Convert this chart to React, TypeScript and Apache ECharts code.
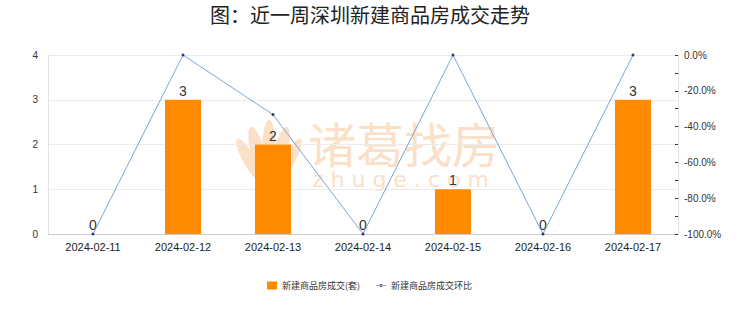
import React, { useEffect, useRef } from "react";
import * as echarts from "echarts";

const categories = ["2024-02-11", "2024-02-12", "2024-02-13", "2024-02-14", "2024-02-15", "2024-02-16", "2024-02-17"];
const deals = [0, 3, 2, 0, 1, 0, 3];
const momPct = [-100, 0, -33.3, -100, 0, -100, 0];
const titleText = "图：近一周深圳新建商品房成交走势";
const barName = "新建商品房成交(套)";
const lineName = "新建商品房成交环比";
const wmTitle = "诸葛找房";
const wmSub = "z h u g e . c o m";

const WM = "#fbe0c8";

export default function App() {
  const ref = useRef<HTMLDivElement>(null);
  useEffect(() => {
    const chart = echarts.init(ref.current!, null, { renderer: "svg" });
    const wm: any[] = [];
    const petalDefs = [
      { x: 269, y: 150, rx: 7, ry: 30, r: 0 },
      { x: 258, y: 154, rx: 7, ry: 28, r: 0.25 },
      { x: 280, y: 154, rx: 7, ry: 28, r: -0.25 },
      { x: 249, y: 160, rx: 6, ry: 24, r: 0.5 },
      { x: 289, y: 160, rx: 6, ry: 24, r: -0.5 },
    ];
    petalDefs.forEach((p) => {
      wm.push({
        type: "ellipse",
        x: p.x,
        y: p.y,
        rotation: p.r,
        shape: { cx: 0, cy: 0, rx: p.rx, ry: p.ry },
        style: { fill: WM },
        z: -10,
        silent: true,
      });
    });
    chart.setOption({
      animation: false,
      title: {
        text: titleText,
        left: "center",
        top: -1,
        textStyle: { fontSize: 20, fontWeight: "normal", color: "#222", fontFamily: "Noto Sans CJK SC" },
      },
      grid: { left: 48, right: 62, top: 55, bottom: 78, show: false },
      legend: {
        top: 276,
        left: 262,
        itemWidth: 10,
        itemHeight: 8,
        itemGap: 16,
        textStyle: { fontSize: 9, color: "#333", fontFamily: "Noto Sans CJK SC" },
        data: [
          { name: barName, icon: "rect", itemWidth: 8 },
          {
            name: lineName,
            icon: "path://M0,4.5h14v1h-14z M7,3a2,2 0 1,0 0.01,0z",
            itemStyle: { color: "#2a4466" },
          },
        ],
      },
      graphic: [
        ...wm,
        {
          type: "text",
          x: 308,
          y: 118,
          style: { text: wmTitle, fontSize: 48, lineHeight: 48, fill: WM, fontFamily: "Noto Sans CJK SC" },
          z: -10,
          silent: true,
        },
        {
          type: "text",
          x: 312,
          y: 168,
          style: { text: wmSub, fontSize: 22, lineHeight: 22, fill: WM, fontFamily: "DejaVu Sans" },
          z: -10,
          silent: true,
        },
      ],
      xAxis: {
        type: "category",
        data: categories,
        axisLine: { lineStyle: { color: "#ccc" } },
        axisTick: { show: false },
        axisLabel: { fontSize: 11, color: "#222", margin: 7 },
      },
      yAxis: [
        {
          type: "value",
          min: 0,
          max: 4,
          interval: 1,
          axisLine: { show: true, lineStyle: { color: "#e3e3e3" } },
          axisTick: { show: false },
          axisLabel: { fontSize: 10, color: "#333", margin: 10 },
          splitLine: { lineStyle: { color: "#ebebeb" } },
        },
        {
          type: "value",
          min: -100,
          max: 0,
          interval: 10,
          position: "right",
          axisLine: { show: true, lineStyle: { color: "#e3e3e3" } },
          axisTick: { show: true, inside: true, length: 3, lineStyle: { color: "#333" } },
          axisLabel: {
            fontSize: 10,
            color: "#333",
            margin: 6,
            formatter: (v: number) => (Math.round(v) % 20 === 0 ? v.toFixed(1) + "%" : ""),
          },
          splitLine: { show: false },
        },
      ],
      series: [
        {
          name: barName,
          type: "bar",
          data: deals,
          barWidth: 36,
          itemStyle: { color: "#ff8a00" },
          label: { show: true, position: "top", fontSize: 14, color: "#333", distance: 2 },
          z: 2,
        },
        {
          name: lineName,
          type: "line",
          yAxisIndex: 1,
          data: momPct,
          symbol: "circle",
          symbolSize: 3,
          lineStyle: { color: "#79a6d6", width: 1 },
          itemStyle: { color: "#2a4466" },
          z: 3,
        },
      ],
    });
    return () => chart.dispose();
  }, []);
  return <div ref={ref} style={{ position: "absolute", left: 0, top: 0, width: 740, height: 312 }} />;
}
